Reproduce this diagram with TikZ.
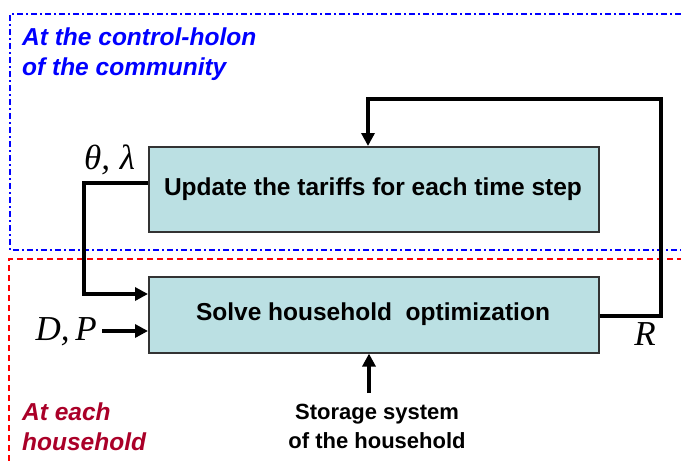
\documentclass[tikz,border=0pt]{standalone}
\usepackage{fontspec}
\setmainfont{Liberation Sans}
\newfontfamily\mathlike{Liberation Serif}
\usetikzlibrary{arrows.meta}
\definecolor{boxfill}{RGB}{187,224,227}
\definecolor{holonblue}{RGB}{0,0,255}
\definecolor{homered}{RGB}{170,0,40}
\begin{document}
\begin{tikzpicture}[x=1pt,y=-1pt,
  procbox/.style={draw=black!80,line width=1.6pt,fill=boxfill,anchor=north west,inner sep=0pt},
  boxtext/.style={font=\fontsize{24.5}{28}\selectfont\bfseries},
  flow/.style={line width=3.6pt,-{Triangle[length=13pt,width=13pt]}},
  sym/.style={font=\fontsize{35}{38}\selectfont\mathlike\itshape,inner sep=0pt},
  region/.style={font=\fontsize{24.5}{30}\selectfont\bfseries\itshape,align=left,anchor=north west,inner sep=0pt},
  plain/.style={font=\fontsize{22}{29}\selectfont\bfseries,align=center,inner sep=0pt}]
\useasboundingbox (0,0) rectangle (681,461);
% region borders
\draw[holonblue,line width=1.3pt,dash pattern=on 6pt off 3pt on 2pt off 3pt]
  (681,14) -- (10,14) -- (10,250) -- (681,250);
\draw[red,line width=1.3pt,dash pattern=on 6pt off 4pt]
  (9,461) -- (9,259) -- (681,259);
\node[region,text=holonblue] (holon) at (22,28) {At the control-holon\\of the community};
\node[region,text=homered] (home) at (22,403) {At each\\household};
% process boxes
\node[procbox,minimum width=450pt,minimum height=85pt] (upd) at (148,146) {};
\node[boxtext] (updtxt) at (373,189) {Update the tariffs for each time step};
\node[procbox,minimum width=450pt,minimum height=76pt] (opt) at (148,276) {};
\node[boxtext] (opttxt) at (373,314) {Solve household\ \ optimization};
% feedback loops
\coordinate (rr) at (661,316);
\coordinate (rt) at (661,99);
\coordinate (lt) at (368,99);
\coordinate (ll) at (84,183);
\coordinate (lb) at (84,294);
\draw[flow] (opt.east |- rr) -- (rr) -- (rt) -- (lt) -- (lt |- upd.north);
\draw[flow] (upd.west |- ll) -- (ll) -- (lb) -- (upd.west |- lb);
% inputs
\coordinate (dp) at (102,331);
\draw[flow] (dp) -- (opt.west |- dp);
\coordinate (st) at (369,393);
\draw[flow] (st) -- (st |- opt.south);
% labels
\node[sym,anchor=south west] (theta) at (84,175) {θ,\;λ};
\node[sym,anchor=east] (dplbl) at (97,332) {D,\,P};
\node[sym] (rlbl) at (645,334) {R};
\node[plain,anchor=north] (stor) at (377,404) {Storage system\\of the household};
\end{tikzpicture}
\end{document}
